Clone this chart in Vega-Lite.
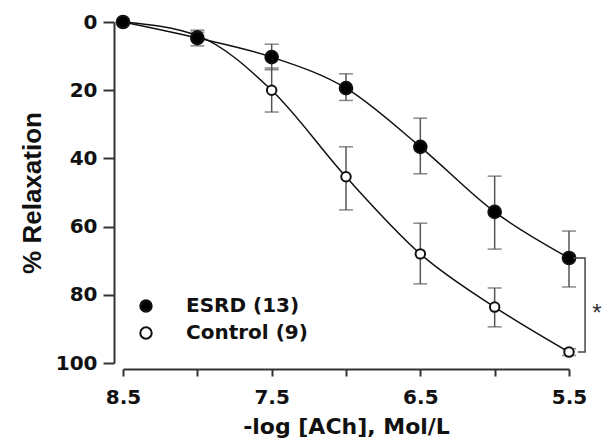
{
  "$schema": "https://vega.github.io/schema/vega-lite/v6.json",
  "width": 446,
  "height": 341,
  "autosize": {"type": "none"},
  "padding": {"left": 123, "top": 22, "right": 47, "bottom": 80},
  "background": "white",
  "config": {
    "view": {"stroke": null},
    "font": "DejaVu Sans",
    "axis": {"grid": false, "domainColor": "#333", "domainWidth": 2, "tickColor": "#333", "tickWidth": 2, "labelFont": "DejaVu Sans", "labelFontWeight": "bold", "labelFontSize": 20, "labelColor": "#111", "titleColor": "#111", "labelFlush": false}
  },
  "datasets": {
    "pts": [
      {"series": "Control (9)", "x": 8.5, "y": 0, "lo": 0, "hi": 0},
      {"series": "Control (9)", "x": 8.0, "y": 4, "lo": 3, "hi": 5},
      {"series": "Control (9)", "x": 7.5, "y": 20, "lo": 13.5, "hi": 26.4},
      {"series": "Control (9)", "x": 7.0, "y": 45.4, "lo": 36.6, "hi": 55.1},
      {"series": "Control (9)", "x": 6.5, "y": 68, "lo": 59, "hi": 76.8},
      {"series": "Control (9)", "x": 6.0, "y": 83.6, "lo": 78, "hi": 89.4},
      {"series": "Control (9)", "x": 5.5, "y": 96.8, "lo": 95.8, "hi": 97.8},
      {"series": "ESRD (13)", "x": 8.5, "y": 0, "lo": 0, "hi": 0},
      {"series": "ESRD (13)", "x": 8.0, "y": 4.7, "lo": 2.4, "hi": 7},
      {"series": "ESRD (13)", "x": 7.5, "y": 10.3, "lo": 6.5, "hi": 14},
      {"series": "ESRD (13)", "x": 7.0, "y": 19.4, "lo": 15.2, "hi": 23},
      {"series": "ESRD (13)", "x": 6.5, "y": 36.6, "lo": 28.2, "hi": 44.5},
      {"series": "ESRD (13)", "x": 6.0, "y": 55.7, "lo": 45.2, "hi": 66.6},
      {"series": "ESRD (13)", "x": 5.5, "y": 69.2, "lo": 61.3, "hi": 77.7}
    ],
    "bracket": [
      {"o": 1, "bx": 5.473, "by": 69.2},
      {"o": 2, "bx": 5.392, "by": 69.2},
      {"o": 3, "bx": 5.392, "by": 96.8},
      {"o": 4, "bx": 5.44, "by": 96.8}
    ],
    "star": [{"bx": 5.312, "by": 83.9, "t": "*"}]
  },
  "layer": [
    {
      "data": {"name": "pts"},
      "mark": {"type": "rule", "color": "#555", "strokeWidth": 1.5},
      "encoding": {
        "x": {"field": "x", "type": "quantitative", "scale": {"domain": [8.5, 5.5], "nice": false, "zero": false},
          "axis": {"values": [8.5, 8, 7.5, 7, 6.5, 6, 5.5], "format": ".1f", "labelExpr": "(datum.value*2) % 2 == 1 ? datum.label : ''", "offset": 6, "tickSize": 7, "labelPadding": 11, "title": "-log [ACh], Mol/L", "titleFont": "DejaVu Sans", "titleFontSize": 22, "titleFontWeight": "bold", "titlePadding": 9}},
        "y": {"field": "lo", "type": "quantitative", "scale": {"domain": [0, 100], "reverse": true, "nice": false},
          "axis": {"values": [0, 10, 20, 30, 40, 50, 60, 70, 80, 90, 100], "labelExpr": "datum.value % 20 == 0 ? datum.label : ''", "offset": 9, "tickSize": {"condition": {"test": "datum.value % 20 == 0", "value": 11}, "value": 8}, "labelPadding": 6, "title": "% Relaxation", "titleFont": "Liberation Sans", "titleFontSize": 26, "titleFontWeight": "bold", "titlePadding": 10}},
        "y2": {"field": "hi"}
      }
    },
    {
      "data": {"name": "pts"},
      "mark": {"type": "tick", "orient": "horizontal", "color": "#555", "size": 14, "thickness": 1.5},
      "encoding": {
        "x": {"field": "x", "type": "quantitative"},
        "y": {"field": "lo", "type": "quantitative"}
      }
    },
    {
      "data": {"name": "pts"},
      "mark": {"type": "tick", "orient": "horizontal", "color": "#555", "size": 14, "thickness": 1.5},
      "encoding": {
        "x": {"field": "x", "type": "quantitative"},
        "y": {"field": "hi", "type": "quantitative"}
      }
    },
    {
      "data": {"name": "pts"},
      "mark": {"type": "line", "interpolate": "monotone", "color": "#111", "strokeWidth": 1.5},
      "encoding": {
        "x": {"field": "x", "type": "quantitative"},
        "y": {"field": "y", "type": "quantitative"},
        "detail": {"field": "series"}
      }
    },
    {
      "data": {"name": "pts"},
      "transform": [{"filter": "datum.series == 'Control (9)'"}],
      "mark": {"type": "point", "shape": "circle", "filled": true, "stroke": "#111", "strokeWidth": 2, "opacity": 1, "size": 90},
      "encoding": {
        "x": {"field": "x", "type": "quantitative"},
        "y": {"field": "y", "type": "quantitative"},
        "fill": {"field": "series", "type": "nominal", "scale": {"domain": ["ESRD (13)", "Control (9)"], "range": ["#000", "#fff"]},
          "legend": {"title": null, "orient": "none", "legendX": 13, "legendY": 274, "symbolType": "circle", "symbolSize": 130, "symbolStrokeColor": "#111", "symbolStrokeWidth": 2, "labelFont": "DejaVu Sans", "labelFontWeight": "bold", "labelFontSize": 20, "labelColor": "#111", "labelOffset": 30, "rowPadding": 7, "padding": 0}}
      }
    },
    {
      "data": {"name": "pts"},
      "transform": [{"filter": "datum.series == 'ESRD (13)'"}],
      "mark": {"type": "point", "shape": "circle", "filled": true, "stroke": "#111", "strokeWidth": 2, "opacity": 1, "size": 160},
      "encoding": {
        "x": {"field": "x", "type": "quantitative"},
        "y": {"field": "y", "type": "quantitative"},
        "fill": {"field": "series", "type": "nominal"}
      }
    },
    {
      "data": {"name": "bracket"},
      "mark": {"type": "line", "color": "#444", "strokeWidth": 1.5},
      "encoding": {
        "x": {"field": "bx", "type": "quantitative"},
        "y": {"field": "by", "type": "quantitative"},
        "order": {"field": "o"}
      }
    },
    {
      "data": {"name": "star"},
      "mark": {"type": "text", "fontSize": 24, "font": "Liberation Sans", "color": "#333", "baseline": "middle", "dy": 6},
      "encoding": {
        "x": {"field": "bx", "type": "quantitative"},
        "y": {"field": "by", "type": "quantitative"},
        "text": {"field": "t"}
      }
    }
  ]
}
